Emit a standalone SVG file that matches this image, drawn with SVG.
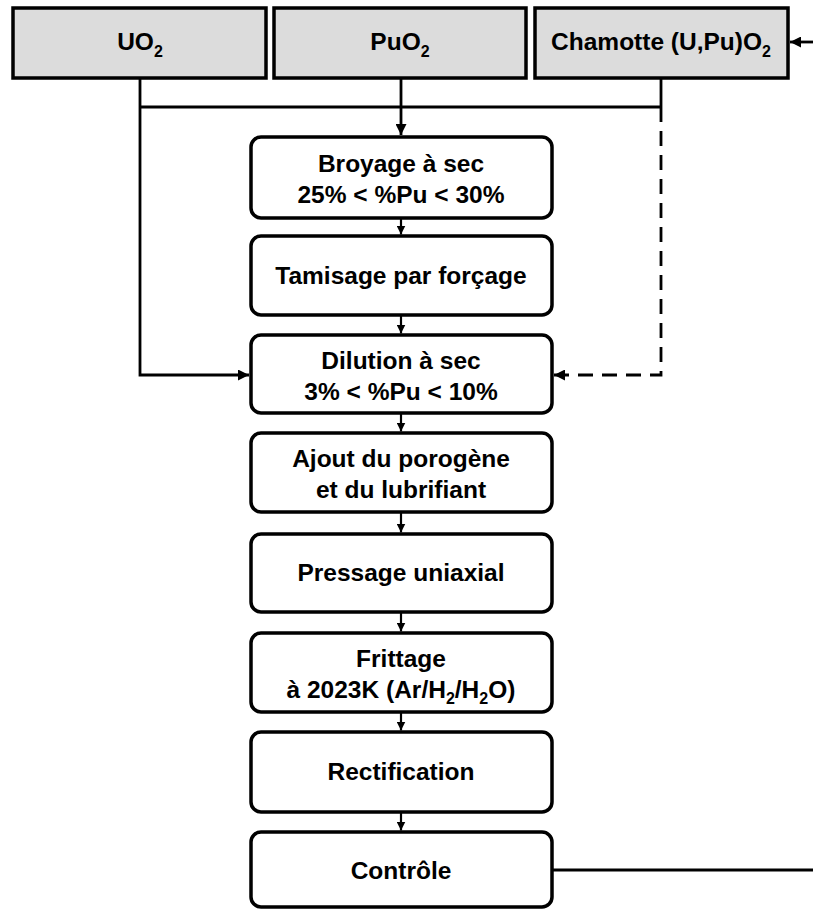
<svg xmlns="http://www.w3.org/2000/svg" width="813" height="909" viewBox="0 0 813 909">
<style>
.src{fill:#dcdcdc;stroke:#000;stroke-width:3.5}
.step{fill:#fff;stroke:#000;stroke-width:3.5}
text{font-family:"Liberation Sans",Arial,sans-serif;font-weight:bold;font-size:24.5px;fill:#000;text-anchor:middle}
.sub{font-size:16px}
.ln{fill:none;stroke:#000;stroke-width:2.8}
.thin{fill:none;stroke:#000;stroke-width:2.2}
.dash{fill:none;stroke:#000;stroke-width:2.8;stroke-dasharray:15 9}
</style>
<defs>
<marker id="ah" viewBox="0 0 10 10" refX="10" refY="5" markerWidth="11" markerHeight="11" markerUnits="userSpaceOnUse" orient="auto"><path d="M0,0 L10,5 L0,10 z" fill="#000"/></marker>
<marker id="as" viewBox="0 0 10 10" refX="10" refY="5" markerWidth="9" markerHeight="9" markerUnits="userSpaceOnUse" orient="auto"><path d="M0,0 L10,5 L0,10 z" fill="#000"/></marker>
</defs>

<g id="connectors">
<path class="ln" d="M140,78 V375 H249" marker-end="url(#ah)"/>
<path class="ln" d="M140,107 H661"/>
<path class="ln" d="M401,78 V135" marker-end="url(#ah)"/>
<path class="ln" d="M661,78 V107"/>
<path class="dash" d="M661,107 V375 H554" marker-end="url(#ah)"/>
<path class="ln" d="M813,42 H790" marker-end="url(#ah)"/>
<path class="ln" d="M553,870 H813"/>
<path class="thin" d="M401,218 V234.5" marker-end="url(#as)"/>
<path class="thin" d="M401,315 V333.5" marker-end="url(#as)"/>
<path class="thin" d="M401,413 V431.5" marker-end="url(#as)"/>
<path class="thin" d="M401,512 V532.5" marker-end="url(#as)"/>
<path class="thin" d="M401,612 V631.5" marker-end="url(#as)"/>
<path class="thin" d="M401,712 V730.5" marker-end="url(#as)"/>
<path class="thin" d="M401,812 V830.5" marker-end="url(#as)"/>
</g>

<g id="uo2">
<rect class="src" x="13" y="8" width="253" height="70"/>
<text x="140" y="50">UO<tspan class="sub" dy="7">2</tspan></text>
</g>
<g id="puo2">
<rect class="src" x="274" y="8" width="252" height="70"/>
<text x="400" y="50">PuO<tspan class="sub" dy="7">2</tspan></text>
</g>
<g id="chamotte">
<rect class="src" x="535" y="8" width="253" height="70"/>
<text x="661" y="50">Chamotte (U,Pu)O<tspan class="sub" dy="7">2</tspan></text>
</g>

<g id="broyage">
<rect class="step" x="251" y="137" width="301" height="81" rx="10"/>
<text x="401" y="172">Broyage à sec</text>
<text x="401" y="203">25% &lt; %Pu &lt; 30%</text>
</g>
<g id="tamisage">
<rect class="step" x="251" y="236" width="301" height="79" rx="10"/>
<text x="401" y="284">Tamisage par forçage</text>
</g>
<g id="dilution">
<rect class="step" x="251" y="335" width="301" height="78" rx="10"/>
<text x="401" y="369">Dilution à sec</text>
<text x="401" y="400">3% &lt; %Pu &lt; 10%</text>
</g>
<g id="ajout">
<rect class="step" x="251" y="433" width="301" height="79" rx="10"/>
<text x="401" y="467">Ajout du porogène</text>
<text x="401" y="498">et du lubrifiant</text>
</g>
<g id="pressage">
<rect class="step" x="251" y="534" width="301" height="78" rx="10"/>
<text x="401" y="581">Pressage uniaxial</text>
</g>
<g id="frittage">
<rect class="step" x="251" y="633" width="301" height="79" rx="10"/>
<text x="401" y="667">Frittage</text>
<text x="401" y="698">à 2023K (Ar/H<tspan class="sub" dy="6">2</tspan><tspan dy="-6">/H</tspan><tspan class="sub" dy="6">2</tspan><tspan dy="-6">O)</tspan></text>
</g>
<g id="rectification">
<rect class="step" x="251" y="732" width="301" height="80" rx="10"/>
<text x="401" y="780">Rectification</text>
</g>
<g id="controle">
<rect class="step" x="251" y="832" width="301" height="75" rx="10"/>
<text x="401" y="879">Contrôle</text>
</g>
</svg>
